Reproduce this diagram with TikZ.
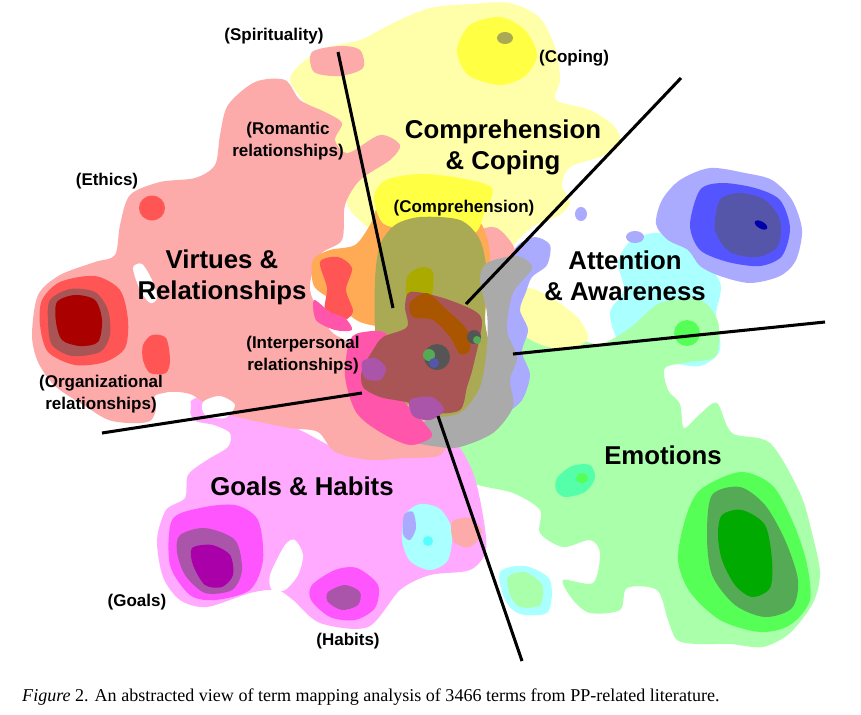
\documentclass[tikz,border=0pt]{standalone}
\usepackage{fontspec}
\setmainfont{Liberation Serif}
\newfontfamily\tagfont{Liberation Sans}
\usepackage{tikz}
\usetikzlibrary{positioning}

\definecolor{RedLight}{HTML}{FCAAAA}
\definecolor{RedMid}{HTML}{FF5555}
\definecolor{RedRing}{HTML}{AA5555}
\definecolor{RedCore}{HTML}{AA0000}
\definecolor{YelLight}{HTML}{FFFFAA}
\definecolor{YelMid}{HTML}{FFFF44}
\definecolor{Olive}{HTML}{AAAA55}
\definecolor{OliveDark}{HTML}{AAAA00}
\definecolor{Orange}{HTML}{FFAA55}
\definecolor{Brown}{HTML}{AA5500}
\definecolor{MagLight}{HTML}{FFAAFF}
\definecolor{MagMid}{HTML}{FF55FF}
\definecolor{MagRing}{HTML}{AA55AA}
\definecolor{MagCore}{HTML}{AA00AA}
\definecolor{HotPink}{HTML}{FF55AA}
\definecolor{GrnLight}{HTML}{AAFFAA}
\definecolor{GrnMid}{HTML}{55FF55}
\definecolor{GrnRing}{HTML}{55AA55}
\definecolor{GrnCore}{HTML}{00AA00}
\definecolor{Teal}{HTML}{55FFAA}
\definecolor{BluLight}{HTML}{AAAAFF}
\definecolor{BluMid}{HTML}{5555FF}
\definecolor{BluRing}{HTML}{5555AA}
\definecolor{BluCore}{HTML}{0000AA}
\definecolor{CyaLight}{HTML}{AAFFFF}
\definecolor{CyaMid}{HTML}{55FFFF}
\definecolor{Grey}{HTML}{AAAAAA}
\definecolor{DarkSpot}{HTML}{555555}

\tikzset{
    bigtag/.style={font=\tagfont\bfseries\fontsize{22}{26.4}\selectfont, align=center, inner sep=0pt},
    smalltag/.style={font=\tagfont\bfseries\fontsize{14.5}{18.5}\selectfont, align=center, inner sep=0pt},
    divider/.style={line width=2.6pt, line cap=butt},
    caption/.style={font=\fontsize{15.4}{17}\selectfont, anchor=west, inner sep=0pt}
}

\begin{document}
\begin{tikzpicture}[x=0.03cm, y=-0.03cm]
    \useasboundingbox (0,0) rectangle (861,714);

    % Light regions
    \fill[YelLight] plot[smooth cycle] coordinates {(290,78) (320,50) (360,40) (395,22) (430,8) (470,4) (510,3) (540,18) (556,50) (560,80) (556,100) (590,110) (615,127) (620,145) (600,157) (570,167) (562,185) (570,203) (558,216) (535,225) (518,240) (500,262) (470,280) (430,270) (390,245) (350,210) (345,180) (330,150) (310,110)};
    \fill[CyaLight] plot[smooth cycle] coordinates {(632,240) (660,233) (690,248) (720,282) (716,315) (720,350) (700,366) (668,362) (640,356) (618,340) (610,312) (624,290) (618,262)};
    \fill[CyaLight] plot[smooth cycle] coordinates {(500,572) (525,566) (550,580) (548,612) (520,614) (505,600)};
    \fill[GrnLight] plot[smooth cycle] coordinates {(505,382) (514,348) (540,330) (570,336) (600,344) (630,328) (660,303) (700,300) (718,322) (716,356) (690,362) (665,368) (668,390) (680,404) (684,428) (700,414) (717,403) (732,433) (770,443) (800,493) (812,533) (820,573) (813,603) (790,633) (763,647) (730,644) (697,644) (677,640) (668,620) (657,590) (627,588) (620,610) (590,613) (573,600) (563,580) (593,583) (600,553) (590,540) (563,547) (540,533) (540,510) (513,493) (473,483) (455,462) (462,440) (482,425) (495,402)};
    \fill[GrnLight] plot[smooth cycle] coordinates {(508,577) (525,572) (542,585) (540,605) (520,607) (510,595)};
    \fill[YelLight] plot[smooth cycle] coordinates {(512,296) (530,288) (555,300) (578,318) (588,338) (570,350) (545,346) (525,336) (512,316)};
    \fill[BluLight] plot[smooth cycle] coordinates {(680,180) (710,168) (745,173) (772,180) (792,200) (802,230) (796,260) (780,276) (750,283) (720,276) (700,266) (688,250) (668,240) (656,224) (662,200)};
    \fill[BluLight] plot[smooth cycle] coordinates {(518,245) (535,237) (550,245) (547,265) (532,277) (526,292) (520,310) (528,330) (522,352) (530,375) (522,400) (505,412) (495,395) (498,330) (500,290) (508,262)};
    \fill[BluLight] (581,214) ellipse (6 and 7);
    \fill[BluLight] (635,237) ellipse (9 and 6);
    \fill[MagLight] plot[smooth cycle] coordinates {(157,540) (166,510) (185,498) (188,475) (207,460) (228,447) (230,433) (214,425) (194,420) (190,402) (212,394) (245,405) (300,430) (340,450) (380,455) (420,445) (452,440) (472,470) (482,510) (486,550) (470,570) (430,575) (400,590) (368,627) (320,623) (293,600) (277,590) (250,593) (207,607) (180,600) (163,577)};
    \fill[CyaLight] plot[smooth cycle] coordinates {(405,515) (420,504) (440,509) (452,530) (448,560) (430,570) (410,561) (402,540)};
    \fill[BluLight] plot[smooth cycle] coordinates {(404,515) (413,512) (416,528) (410,540) (403,534)};
    \fill[CyaMid] (428,541) circle (5);
    \fill[RedLight] plot[smooth cycle] coordinates {(32,335) (38,295) (60,275) (95,262) (115,255) (120,225) (130,195) (160,182) (195,178) (215,165) (220,135) (228,105) (255,82) (285,80) (300,100) (325,112) (342,123) (335,140) (348,153) (380,135) (400,145) (390,160) (360,180) (345,205) (342,240) (320,255) (310,290) (330,330) (350,345) (360,380) (400,390) (440,395) (450,430) (440,455) (405,458) (370,460) (335,452) (318,432) (290,428) (250,420) (215,410) (190,394) (162,394) (150,421) (112,421) (85,406) (55,386) (38,362)};
    \fill[RedLight] plot[smooth cycle] coordinates {(312,52) (340,46) (360,50) (363,68) (340,76) (314,72)};
    \fill[RedLight] plot[smooth cycle] coordinates {(478,233) (497,228) (515,250) (505,272) (485,265)};
    \fill[RedLight] plot[smooth cycle] coordinates {(452,522) (470,518) (482,532) (470,547) (454,542)};

    % Centre overlap
    \fill[Orange] plot[smooth cycle] coordinates {(313,260) (330,250) (355,245) (370,225) (380,205) (410,198) (460,203) (482,225) (490,255) (487,290) (480,330) (440,340) (400,330) (360,322) (335,302) (314,286)};
    \fill[YelMid] plot[smooth cycle] coordinates {(374,197) (386,180) (420,174) (460,178) (492,188) (484,214) (472,234) (420,230) (384,224)};
    \fill[Olive] plot[smooth cycle] coordinates {(375,280) (380,245) (395,225) (420,217) (460,220) (480,240) (487,275) (485,320) (490,355) (480,390) (465,420) (440,421) (420,405) (390,400) (376,340)};
    \fill[Grey] plot[smooth cycle] coordinates {(487,263) (517,256) (532,268) (513,293) (507,330) (517,357) (510,380) (513,407) (493,433) (460,447) (440,447) (410,440) (427,420) (460,413) (480,387) (487,347) (487,313) (480,280)};
    \fill[HotPink] plot[smooth cycle] coordinates {(350,340) (364,332) (388,336) (396,390) (420,418) (432,436) (410,445) (380,432) (356,412) (345,376)};
    \fill[RedMid] plot[smooth cycle] coordinates {(320,262) (338,257) (352,268) (346,290) (353,312) (340,322) (325,310) (327,288)};
    \fill[HotPink] plot[smooth cycle] coordinates {(314,300) (330,312) (345,318) (352,330) (335,330) (316,320)};
    \fill[OliveDark] plot[smooth cycle] coordinates {(408,275) (422,267) (433,272) (432,295) (425,312) (410,310) (406,292)};
    \fill[RedRing] plot[smooth cycle] coordinates {(405,307) (410,292) (440,297) (473,310) (482,323) (473,367) (467,387) (460,410) (433,413) (410,403) (380,397) (363,387) (362,370) (373,350) (383,337) (407,327)};
    \fill[MagRing] plot[smooth cycle] coordinates {(362,362) (375,358) (386,368) (380,380) (365,378)};
    \fill[MagRing] plot[smooth cycle] coordinates {(410,400) (432,397) (444,410) (430,420) (413,416)};
    \fill[Brown] plot[smooth cycle] coordinates {(410,303) (427,293) (447,310) (467,330) (470,350) (460,354) (450,337) (433,320) (413,317)};
    \fill[DarkSpot] (437,357) circle (13);
    \fill[GrnRing] (429,355) circle (6);
    \fill[BluRing] (434,363) circle (5);
    \fill[DarkSpot] (474,337) circle (7);
    \fill[GrnRing] (477,340) circle (4);

    % Cores and rings
    \fill[RedMid] (152,208) ellipse (13 and 12.5);
    \fill[RedMid] plot[smooth cycle] coordinates {(143,345) (152,335) (166,338) (170,360) (166,373) (150,373) (143,360)};
    \fill[RedMid] plot[smooth cycle] coordinates {(42,300) (60,282) (95,276) (120,290) (128,320) (125,348) (105,362) (75,365) (48,352) (40,325)};
    \fill[RedRing] plot[smooth cycle] coordinates {(50,300) (70,289) (95,292) (108,310) (110,335) (100,352) (72,356) (52,345) (48,322)};
    \fill[RedCore] plot[smooth cycle] coordinates {(57,302) (75,295) (95,300) (102,320) (98,342) (80,346) (62,340) (56,322)};
    \fill[YelMid] plot[smooth cycle] coordinates {(470,25) (500,17) (525,30) (537,55) (525,76) (500,85) (468,75) (457,50)};
    \fill[Olive] (505,38) ellipse (8 and 6);
    \fill[BluMid] plot[smooth cycle] coordinates {(700,190) (722,183) (755,188) (780,200) (790,228) (782,256) (760,266) (728,262) (700,250) (690,225)};
    \fill[BluRing] plot[smooth cycle] coordinates {(720,200) (740,193) (765,200) (780,220) (778,246) (758,257) (730,252) (715,230)};
    \fill[BluCore,rotate around={-30:(761,225)}] (761,225) ellipse (7 and 3.5);
    \fill[GrnMid] (687,333) ellipse (13 and 13);
    \fill[Teal] plot[smooth cycle] coordinates {(557,478) (572,466) (590,465) (595,478) (585,492) (565,497) (556,490)};
    \fill[GrnMid] (582,478) ellipse (6 and 5);
    \fill[GrnMid] plot[smooth cycle] coordinates {(700,490) (740,472) (772,485) (792,520) (806,560) (810,600) (790,625) (760,632) (720,620) (690,592) (678,560) (685,520)};
    \fill[GrnRing] plot[smooth cycle] coordinates {(712,495) (740,487) (765,505) (785,540) (798,580) (792,608) (765,617) (735,605) (712,575) (707,535)};
    \fill[GrnCore] plot[smooth cycle] coordinates {(722,515) (742,510) (765,525) (772,560) (770,588) (752,597) (735,585) (722,560) (718,535)};
    \fill[MagMid] plot[smooth cycle] coordinates {(172,520) (200,508) (235,505) (258,520) (263,560) (250,590) (215,600) (190,595) (170,565)};
    \fill[MagRing] plot[smooth cycle] coordinates {(180,535) (205,528) (235,540) (242,570) (232,590) (205,593) (185,575) (177,552)};
    \fill[MagCore] plot[smooth cycle] coordinates {(192,548) (212,545) (230,555) (233,575) (222,587) (205,585) (193,565)};
    \fill[MagMid] plot[smooth cycle] coordinates {(312,585) (335,570) (357,568) (378,585) (375,608) (355,620) (330,617) (311,600)};
    \fill[MagRing] plot[smooth cycle] coordinates {(328,592) (345,585) (360,592) (358,605) (342,610) (328,602)};

    % Holes
    \fill[white] plot[smooth cycle] coordinates {(133,268) (142,264) (152,280) (157,298) (150,303) (140,290)};
    \fill[white] plot[smooth cycle] coordinates {(155,396) (175,393) (190,400) (188,418) (170,425) (158,415)};
    \fill[white] plot[smooth cycle] coordinates {(203,402) (220,396) (235,405) (225,418) (205,415)};
    \fill[white] plot[smooth cycle] coordinates {(270,575) (285,545) (295,540) (303,555) (298,575) (285,590) (272,590)};

    % Divider lines
    \coordinate (spiritTop) at (338,52);
    \coordinate (spiritEnd) at (393,308);
    \coordinate (copeTop) at (681,78);
    \coordinate (copeEnd) at (466,304);
    \coordinate (attnEnd) at (513,354);
    \coordinate (attnTip) at (825,322);
    \coordinate (emoEnd) at (438,416);
    \coordinate (emoTip) at (522,661);
    \coordinate (virtTip) at (102,433);
    \coordinate (virtEnd) at (362,393);
    \draw[divider] (spiritTop) -- (spiritEnd);
    \draw[divider] (copeTop) -- (copeEnd);
    \draw[divider] (attnEnd) -- (attnTip);
    \draw[divider] (emoEnd) -- (emoTip);
    \draw[divider] (virtTip) -- (virtEnd);

    % Cluster names
    \node[bigtag] (comp) at (503,147) {Comprehension\\\& Coping};
    \node[bigtag] (virt) at (222,277) {Virtues \&\\Relationships};
    \node[bigtag] (attn) at (625,276) {Attention\\\& Awareness};
    \node[bigtag] (emo) at (663,455) {Emotions};
    \node[bigtag] (goal) at (302,486) {Goals \& Habits};

    % Sub-topic names
    \node[smalltag] (spirit) at (274,36) {(Spirituality)};
    \node[smalltag] (coping) at (574,58) {(Coping)};
    \node[smalltag] (roman) at (288,141) {(Romantic\\relationships)};
    \node[smalltag] (ethics) at (107,181) {(Ethics)};
    \node[smalltag] (compr) at (464,208) {(Comprehension)};
    \node[smalltag] (inter) at (303,355) {(Interpersonal\\relationships)};
    \node[smalltag] (organ) at (101,394) {(Organizational\\relationships)};
    \node[smalltag] (goals) at (137,602) {(Goals)};
    \node[smalltag] (habits) at (348,641) {(Habits)};

    \node[caption] (cap) at (22,697) {\textit{Figure} 2. An abstracted view of term mapping analysis of 3466 terms from PP-related literature.};
\end{tikzpicture}
\end{document}
